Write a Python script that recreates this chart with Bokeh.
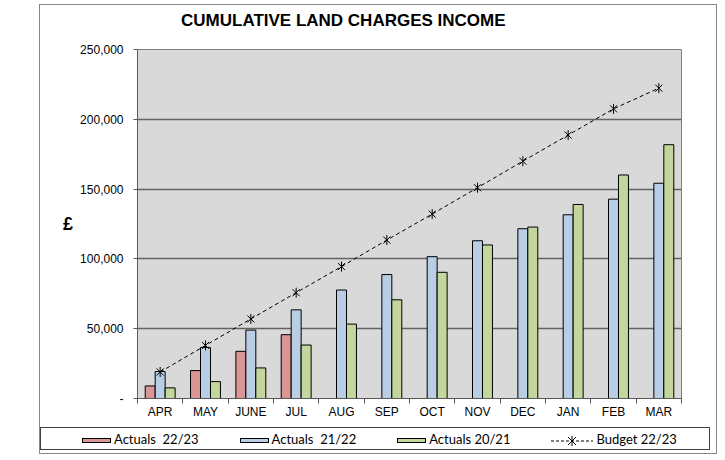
from bokeh.plotting import figure
from bokeh.layouts import column
from bokeh.models import ColumnDataSource, FixedTicker, NumeralTickFormatter, Range1d, Div
from bokeh.transform import dodge
from bokeh.embed import file_html
from bokeh.resources import INLINE

title_text = "CUMULATIVE LAND CHARGES INCOME"
months = ["APR", "MAY", "JUNE", "JUL", "AUG", "SEP", "OCT", "NOV", "DEC", "JAN", "FEB", "MAR"]
actuals_2223 = [9000, 20000, 33800, 45700]
actuals_2122 = [19300, 36600, 49000, 63500, 77700, 88800, 101600, 113000, 121600, 131600, 142800, 154200]
actuals_2021 = [7600, 12100, 21900, 38300, 53300, 70700, 90400, 110000, 122800, 139000, 160100, 181800]
budget_2223 = [19000, 38000, 57000, 75800, 94500, 113500, 132100, 151000, 170000, 188700, 207500, 222300]
y_ticks = [0, 50000, 100000, 150000, 200000, 250000]
series_labels = ["Actuals&nbsp;&nbsp;22/23", "Actuals&nbsp;&nbsp;21/22", "Actuals 20/21", "Budget 22/23"]
colors = ["#DA9694", "#B9CDE5", "#C3D69B"]

idx = list(range(len(months)))
src_a = ColumnDataSource(dict(x=idx[:len(actuals_2223)], y=actuals_2223))
src_b = ColumnDataSource(dict(x=idx, y=actuals_2122))
src_c = ColumnDataSource(dict(x=idx, y=actuals_2021))
src_d = ColumnDataSource(dict(x=idx, y=budget_2223))

# title strip
title_div = Div(
    text=f'<div style="padding-left:141px;padding-top:6px;line-height:20px;'
         f'font-family:\'Liberation Sans\';font-weight:bold;font-size:17px;color:#000;'
         f'white-space:nowrap">{title_text}</div>',
    width=676, height=30)
title_div.margin = (0, 0, 0, 0)

p = figure(width=676, height=392, output_backend="svg", toolbar_location=None, tools="",
           x_range=Range1d(-0.5, len(months) - 0.5), y_range=Range1d(0, 250000),
           min_border_left=97, min_border_right=35, min_border_top=14, min_border_bottom=29)
p.title.visible = False
p.background_fill_color = "#D9D9D9"
p.border_fill_color = "white"
p.outline_line_color = "#7f7f7f"
p.outline_line_width = 1

W = 0.22
for src, off, col in [(src_a, -W, colors[0]), (src_b, 0, colors[1]), (src_c, W, colors[2])]:
    p.vbar(x=dodge("x", off, range=None), top="y", width=W, source=src,
           fill_color=col, line_color="black", line_width=1)
p.line(x="x", y="y", source=src_d, line_color="black", line_dash="4 3", line_width=1)
p.scatter(x="x", y="y", source=src_d, marker="x", size=10, line_color="black", line_width=1)
p.scatter(x="x", y="y", source=src_d, marker="dash", angle=1.5708, size=10,
          line_color="black", line_width=1)

# grid
p.xgrid.visible = False
p.ygrid.ticker = FixedTicker(ticks=y_ticks)
p.ygrid.grid_line_color = "#636363"
p.ygrid.grid_line_width = 1.3

# y axis
yax = p.yaxis[0]
yax.ticker = FixedTicker(ticks=y_ticks)
yax.formatter = NumeralTickFormatter(format="0,0")
yax.major_label_overrides = {0: "-"}
yax.major_label_text_font = "Liberation Sans"
yax.major_label_text_font_size = "12px"
yax.major_label_text_color = "black"
yax.major_tick_out = 4
yax.major_tick_in = 0
yax.minor_tick_out = 0
yax.minor_tick_in = 0
yax.major_label_standoff = 10
yax.axis_line_color = "#595959"
yax.major_tick_line_color = "#595959"
yax.axis_label = "£"
yax.axis_label_orientation = "horizontal"
yax.axis_label_text_font = "Liberation Sans"
yax.axis_label_text_font_style = "bold"
yax.axis_label_text_font_size = "18px"
yax.axis_label_text_color = "black"
yax.axis_label_standoff = 4

# x axis
xax = p.xaxis[0]
xax.ticker = FixedTicker(ticks=idx, minor_ticks=[i - 0.5 for i in range(len(months) + 1)])
xax.major_label_overrides = {i: m for i, m in enumerate(months)}
xax.major_label_text_font = "Liberation Sans"
xax.major_label_text_font_size = "12px"
xax.major_label_text_color = "black"
xax.major_tick_out = 0
xax.major_tick_in = 0
xax.minor_tick_out = 5
xax.minor_tick_in = 0
xax.major_label_standoff = 1
xax.axis_line_color = "#595959"
xax.minor_tick_line_color = "#595959"

# legend strip below the chart
swatch = ('<span style="display:inline-block;width:29px;height:5px;background:{c};'
          'border:1px solid #000;vertical-align:middle;margin-right:3px"></span>')
budget_glyph = ('<svg width="42" height="10" style="vertical-align:middle;margin-right:3px">'
                '<line x1="0" y1="5" x2="42" y2="5" stroke="#000" stroke-width="1" stroke-dasharray="3 2"/>'
                '<line x1="17" y1="1" x2="25" y2="9" stroke="#000"/>'
                '<line x1="25" y1="1" x2="17" y2="9" stroke="#000"/>'
                '<line x1="21" y1="0" x2="21" y2="10" stroke="#000"/></svg>')
glyphs = [swatch.format(c=c) for c in colors] + [budget_glyph]
item_margins = [41, 41, 41, 0]
items_html = "".join(
    f'<span style="display:inline-block;margin-right:{m}px;white-space:nowrap">{g}{lab}</span>'
    for g, lab, m in zip(glyphs, series_labels, item_margins))
legend_div = Div(
    text=f'<div style="padding-left:41px;line-height:23px;font-family:Lato;font-size:13px;'
         f'color:#000;white-space:nowrap">{items_html}</div>',
    width=670, height=23,
    styles={"border": "1px solid #404040", "background": "white"})
legend_div.margin = (0, 0, 3, 0)

lay = column(title_div, p, legend_div, spacing=0)
lay.margin = (4, 0, 0, 39)
lay.styles = {"border": "1px solid #868686"}

open("out.html", "w").write(file_html(lay, INLINE))
